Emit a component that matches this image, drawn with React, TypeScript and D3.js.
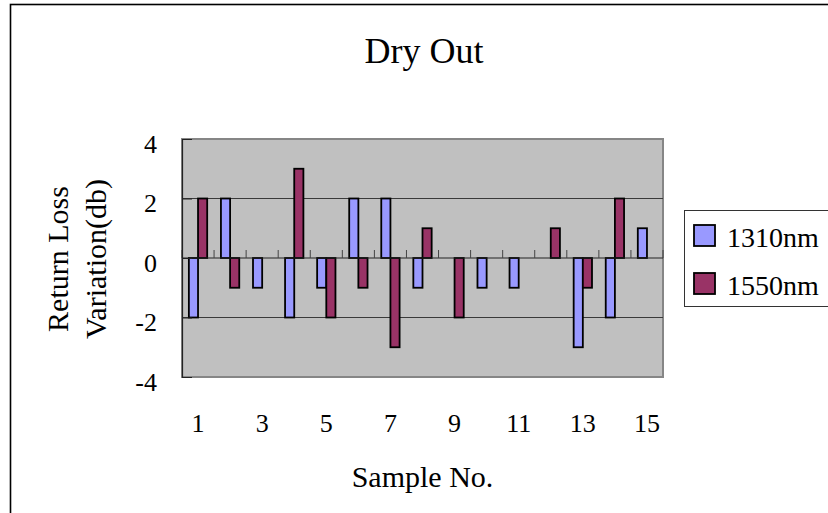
import React, { useEffect, useRef } from 'react';
import * as d3 from 'd3';

// chart data
const samples = ['1', '2', '3', '4', '5', '6', '7', '8', '9', '10', '11', '12', '13', '14', '15'];
const seriesNames = ['1310nm', '1550nm'];
const values1310 = [-2, 2, -1, -2, -1, 2, 2, -1, 0, -1, -1, 0, -3, -2, 1];
const values1550 = [2, -1, 0, 3, -2, -1, -3, 1, -2, 0, 0, 1, -1, 2, 0];
const seriesColors = ['#9999ff', '#993366'];
const yTicks = [-4, -2, 0, 2, 4];
const xTickLabels = ['1', '3', '5', '7', '9', '11', '13', '15'];

const FONT = 'Liberation Serif, Times New Roman, serif';

const App: React.FC = () => {
  const svgRef = useRef<SVGSVGElement>(null);

  useEffect(() => {
    if (!svgRef.current) return;
    const width = 828;
    const height = 513;
    const plot = { left: 182, right: 663, top: 139, bottom: 377 };

    const svg = d3.select(svgRef.current);
    svg.selectAll('*').remove();
    svg.attr('width', width).attr('height', height).attr('font-family', FONT);

    // outer chart frame (runs off the right/bottom edge)
    svg
      .append('rect')
      .attr('x', 10.5)
      .attr('y', 4.5)
      .attr('width', 1000)
      .attr('height', 1000)
      .attr('fill', '#fff')
      .attr('stroke', '#000')
      .attr('stroke-width', 1.6);

    const x = d3.scaleBand<string>().domain(samples).range([plot.left, plot.right]).padding(0);
    const xs = d3
      .scaleBand<string>()
      .domain(seriesNames)
      .range([0, x.bandwidth()])
      .paddingInner(0)
      .paddingOuter(0.75);
    const y = d3.scaleLinear().domain([-4, 4]).range([plot.bottom, plot.top]);

    // plot background
    svg
      .append('rect')
      .attr('x', plot.left)
      .attr('y', plot.top)
      .attr('width', plot.right - plot.left)
      .attr('height', plot.bottom - plot.top)
      .attr('fill', '#c0c0c0')
      .attr('stroke', '#868686')
      .attr('stroke-width', 2);

    // gridlines
    svg
      .append('g')
      .selectAll('line')
      .data(yTicks.filter((t) => t !== 0 && t !== -4 && t !== 4))
      .join('line')
      .attr('x1', plot.left)
      .attr('x2', plot.right)
      .attr('y1', (d) => y(d))
      .attr('y2', (d) => y(d))
      .attr('stroke', '#3a3a3a')
      .attr('stroke-width', 1);

    // bars
    const series = [values1310, values1550];
    series.forEach((vals, si) => {
      svg
        .append('g')
        .selectAll('rect')
        .data(vals)
        .join('rect')
        .attr('x', (_, i) => (x(samples[i]) as number) + (xs(seriesNames[si]) as number))
        .attr('width', xs.bandwidth())
        .attr('y', (d) => y(Math.max(d, 0)))
        .attr('height', (d) => Math.abs(y(d) - y(0)))
        .attr('fill', seriesColors[si])
        .attr('stroke', '#000')
        .attr('stroke-width', 1.8);
    });

    // zero line with category ticks
    svg
      .append('line')
      .attr('x1', plot.left)
      .attr('x2', plot.right)
      .attr('y1', y(0))
      .attr('y2', y(0))
      .attr('stroke', '#222')
      .attr('stroke-width', 1);
    svg
      .append('g')
      .selectAll('line')
      .data(d3.range(samples.length + 1))
      .join('line')
      .attr('x1', (i) => plot.left + i * x.step())
      .attr('x2', (i) => plot.left + i * x.step())
      .attr('y1', y(0))
      .attr('y2', y(0) - 8)
      .attr('stroke', '#444')
      .attr('stroke-width', 1);

    // y axis
    const yAxis = svg
      .append('g')
      .attr('transform', `translate(${plot.left},0)`)
      .call(
        d3
          .axisLeft(y)
          .tickValues(yTicks)
          .tickSize(-10)
          .tickPadding(25)
          .tickSizeOuter(0)
          .tickFormat((d) => String(d)),
      )
      .attr('font-family', FONT)
      .attr('font-size', 26);
    yAxis.select('.domain').attr('stroke', '#222').attr('stroke-width', 1.2);
    yAxis.selectAll('.tick line').attr('stroke', '#222');
    yAxis.selectAll('.tick text').attr('dy', '0.5em').attr('fill', '#000');

    // x axis labels (odd samples only)
    const xAxis = svg
      .append('g')
      .attr('transform', `translate(0,${plot.bottom})`)
      .call(
        d3
          .axisBottom(x)
          .tickSize(0)
          .tickPadding(37)
          .tickFormat((d) => (xTickLabels.includes(d) ? d : '')),
      )
      .attr('font-family', FONT)
      .attr('font-size', 26);
    xAxis.select('.domain').remove();
    xAxis.selectAll('.tick text').attr('fill', '#000');

    // title
    svg
      .append('text')
      .attr('x', 424)
      .attr('y', 63)
      .attr('text-anchor', 'middle')
      .attr('font-size', 36)
      .text('Dry Out');

    // axis titles
    const yTitle = svg
      .append('text')
      .attr('transform', 'translate(68,259) rotate(-90)')
      .attr('text-anchor', 'middle')
      .attr('font-size', 30);
    yTitle.append('tspan').attr('x', 0).attr('y', 0).text('Return Loss');
    yTitle.append('tspan').attr('x', 0).attr('y', 38).text('Variation(db)');

    svg
      .append('text')
      .attr('x', (plot.left + plot.right) / 2)
      .attr('y', 487)
      .attr('text-anchor', 'middle')
      .attr('font-size', 30)
      .text('Sample No.');

    // legend
    svg
      .append('rect')
      .attr('x', 684.5)
      .attr('y', 210.5)
      .attr('width', 300)
      .attr('height', 96)
      .attr('fill', '#fff')
      .attr('stroke', '#333')
      .attr('stroke-width', 1);
    const legend = svg
      .append('g')
      .selectAll('g')
      .data(seriesNames)
      .join('g')
      .attr('transform', (_, i) => `translate(694,${225 + i * 48})`);
    legend
      .append('rect')
      .attr('width', 21)
      .attr('height', 21)
      .attr('fill', (_, i) => seriesColors[i])
      .attr('stroke', '#000')
      .attr('stroke-width', 1.8);
    legend
      .append('text')
      .attr('x', 33)
      .attr('y', 22)
      .attr('font-size', 28)
      .text((d) => d);
  }, []);

  return (
    <div style={{ position: 'fixed', left: 0, top: 0, width: 828, height: 513, overflow: 'hidden', background: '#fff' }}>
      <svg ref={svgRef} style={{ display: 'block' }}></svg>
    </div>
  );
};

export default App;
